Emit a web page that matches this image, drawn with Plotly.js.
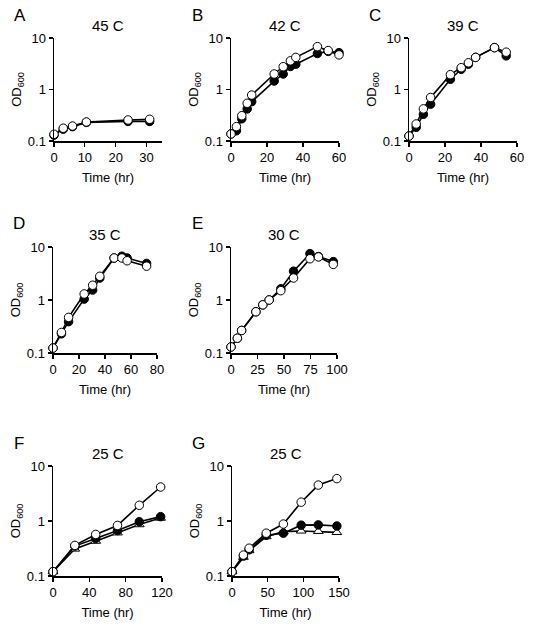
<!DOCTYPE html>
<html>
<head>
<meta charset="utf-8">
<script src="https://cdn.plot.ly/plotly-3.0.1.min.js"></script>
<style>html,body{margin:0;padding:0;background:#fff;}#chart{width:551px;height:636px;}</style>
</head>
<body>
<div id="chart"></div>
<script>
// ---- Data (time in hr, OD600) ----
var tA = [0, 3, 6, 10.5, 24, 31];
var A_filled = [0.13, 0.17, 0.19, 0.23, 0.24, 0.24];
var A_open = [0.135, 0.177, 0.195, 0.234, 0.256, 0.264];

var tB = [0, 3, 6, 9, 11.5, 24, 29, 33, 36, 48, 54, 60];
var B_filled = [0.137, 0.158, 0.27, 0.42, 0.58, 1.46, 2.0, 2.8, 3.1, 5.0, 5.5, 5.2];
var B_open = [0.137, 0.19, 0.31, 0.54, 0.78, 2.0, 2.77, 3.6, 4.2, 6.8, 5.7, 4.7];

var tC = [0, 4, 8, 12, 23, 29, 33, 37, 47.5, 54];
var C_filled = [0.125, 0.185, 0.33, 0.52, 1.58, 2.47, 3.1, 4.2, 6.5, 4.5];
var C_open = [0.125, 0.214, 0.42, 0.70, 1.94, 2.65, 3.3, 4.2, 6.5, 5.3];

var tD = [0, 6.5, 12, 24, 30.5, 36, 47, 53, 57, 72];
var D_filled = [0.124, 0.23, 0.39, 1.04, 1.54, 2.6, 6.2, 6.7, 6.2, 4.9];
var D_open = [0.124, 0.244, 0.47, 1.3, 1.9, 2.8, 6.2, 6.2, 5.5, 4.35];

var tE = [0, 6, 10, 23.5, 30, 36, 47, 59, 74.5, 82.5, 96.5];
var E_filled = [0.13, 0.19, 0.266, 0.6, 0.81, 1.0, 1.63, 3.5, 7.5, 6.6, 5.3];
var E_open = [0.13, 0.19, 0.266, 0.6, 0.81, 1.0, 1.5, 2.6, 6.0, 6.5, 4.7];

var tF = [0, 24, 47, 71, 95, 118.5];
var F_triangle = [0.12, 0.31, 0.43, 0.61, 0.86, 1.13];
var F_filled = [0.12, 0.35, 0.48, 0.67, 0.97, 1.2];
var F_open = [0.12, 0.36, 0.57, 0.83, 1.93, 4.15];

var tG = [0, 16, 24, 48, 72, 97, 121, 147];
var G_triangle = [0.12, 0.22, 0.29, 0.52, 0.64, 0.66, 0.65, 0.62];
var G_filled = [0.12, 0.23, 0.30, 0.55, 0.6, 0.84, 0.85, 0.81];
var G_open = [0.12, 0.24, 0.32, 0.6, 0.88, 2.2, 4.5, 5.9];

var panelLetters = ['A', 'B', 'C', 'D', 'E', 'F', 'G'];
var panelTitles = ['45 C', '42 C', '39 C', '35 C', '30 C', '25 C', '25 C'];
var yTickVals = [0.1, 1, 10];
var yTickText = ['0.1', '1', '10'];
var xTicks = [[0, 10, 20, 30], [0, 20, 40, 60], [0, 20, 40, 60], [0, 20, 40, 60, 80], [0, 25, 50, 75, 100], [0, 40, 80, 120], [0, 50, 100, 150]];
var xRanges = [[0, 35], [0, 60], [0, 60], [0, 80], [0, 100], [0, 120], [0, 150]];

// ---- Layout geometry (pixels) ----
var W = 551, H = 636;
var boxes = [ // [x0, x1, yTop, yBottom]
  [54, 162, 38, 141],
  [231, 339, 38, 141],
  [409, 517, 38, 141],
  [53, 157, 247, 353],
  [231, 337, 247, 353],
  [53, 162, 466, 576],
  [232, 339, 466, 576]
];
var FONT = 'Arial, "Liberation Sans", sans-serif';

function series(t, y, kind, n) {
  var sfx = n === 1 ? '' : String(n);
  var marker = {size: 8.5, line: {color: '#000', width: 1}};
  if (kind === 'filled') { marker.symbol = 'circle'; marker.color = '#000'; }
  else if (kind === 'open') { marker.symbol = 'circle'; marker.color = '#fff'; }
  else { marker.symbol = 'triangle-up'; marker.color = '#fff'; marker.size = 8.5; }
  return {x: t, y: y, type: 'scatter', mode: 'lines+markers', xaxis: 'x' + sfx, yaxis: 'y' + sfx,
    line: {color: '#000', width: 1.6}, marker: marker, cliponaxis: false, showlegend: false, hoverinfo: 'x+y'};
}

var data = [
  series(tA, A_filled, 'filled', 1), series(tA, A_open, 'open', 1),
  series(tB, B_filled, 'filled', 2), series(tB, B_open, 'open', 2),
  series(tC, C_filled, 'filled', 3), series(tC, C_open, 'open', 3),
  series(tD, D_filled, 'filled', 4), series(tD, D_open, 'open', 4),
  series(tE, E_filled, 'filled', 5), series(tE, E_open, 'open', 5),
  series(tF, F_triangle, 'triangle', 6), series(tF, F_filled, 'filled', 6), series(tF, F_open, 'open', 6),
  series(tG, G_triangle, 'triangle', 7), series(tG, G_filled, 'filled', 7), series(tG, G_open, 'open', 7)
];

var layout = {
  width: W, height: H, margin: {l: 0, r: 0, t: 0, b: 0},
  paper_bgcolor: '#fff', plot_bgcolor: 'rgba(0,0,0,0)',
  font: {family: FONT, size: 13, color: '#000'},
  showlegend: false, annotations: []
};

boxes.forEach(function (b, i) {
  var n = i + 1, sfx = n === 1 ? '' : String(n);
  layout['xaxis' + sfx] = {
    domain: [b[0] / W, b[1] / W], anchor: 'y' + sfx, range: xRanges[i],
    showline: true, linecolor: '#000', linewidth: 1.5, showgrid: false, zeroline: false,
    ticks: 'outside', ticklen: 4, tickwidth: 1.2, tickcolor: '#000', tickvals: xTicks[i],
    tickfont: {size: 13, family: FONT, color: '#000'},
    title: {text: 'Time (hr)', font: {size: 13, family: FONT, color: '#000'}, standoff: 9}
  };
  layout['yaxis' + sfx] = {
    domain: [1 - b[3] / H, 1 - b[2] / H], anchor: 'x' + sfx, type: 'log', range: [-1, 1],
    showline: true, linecolor: '#000', linewidth: 1.5, showgrid: false, zeroline: false,
    ticks: 'outside', ticklen: 4, tickwidth: 1.2, tickcolor: '#000', tickvals: yTickVals, ticktext: yTickText,
    tickfont: {size: 13, family: FONT, color: '#000'},
    title: {text: 'OD<sub>600</sub>', font: {size: 13, family: FONT, color: '#000'}, standoff: 3}
  };
  layout.annotations.push({
    text: panelTitles[i], xref: 'paper', yref: 'paper', showarrow: false,
    x: ((b[0] + b[1]) / 2) / W, y: 1 - (b[2] - 13) / H, xanchor: 'center', yanchor: 'middle',
    font: {size: 15, family: FONT, color: '#000'}
  });
  layout.annotations.push({
    text: panelLetters[i], xref: 'paper', yref: 'paper', showarrow: false,
    x: (b[0] - 34) / W, y: 1 - (b[2] - 23) / H, xanchor: 'center', yanchor: 'middle',
    font: {size: 17, family: FONT, color: '#000'}
  });
});

Plotly.newPlot('chart', data, layout, {displayModeBar: false, staticPlot: true});
</script>
</body>
</html>
